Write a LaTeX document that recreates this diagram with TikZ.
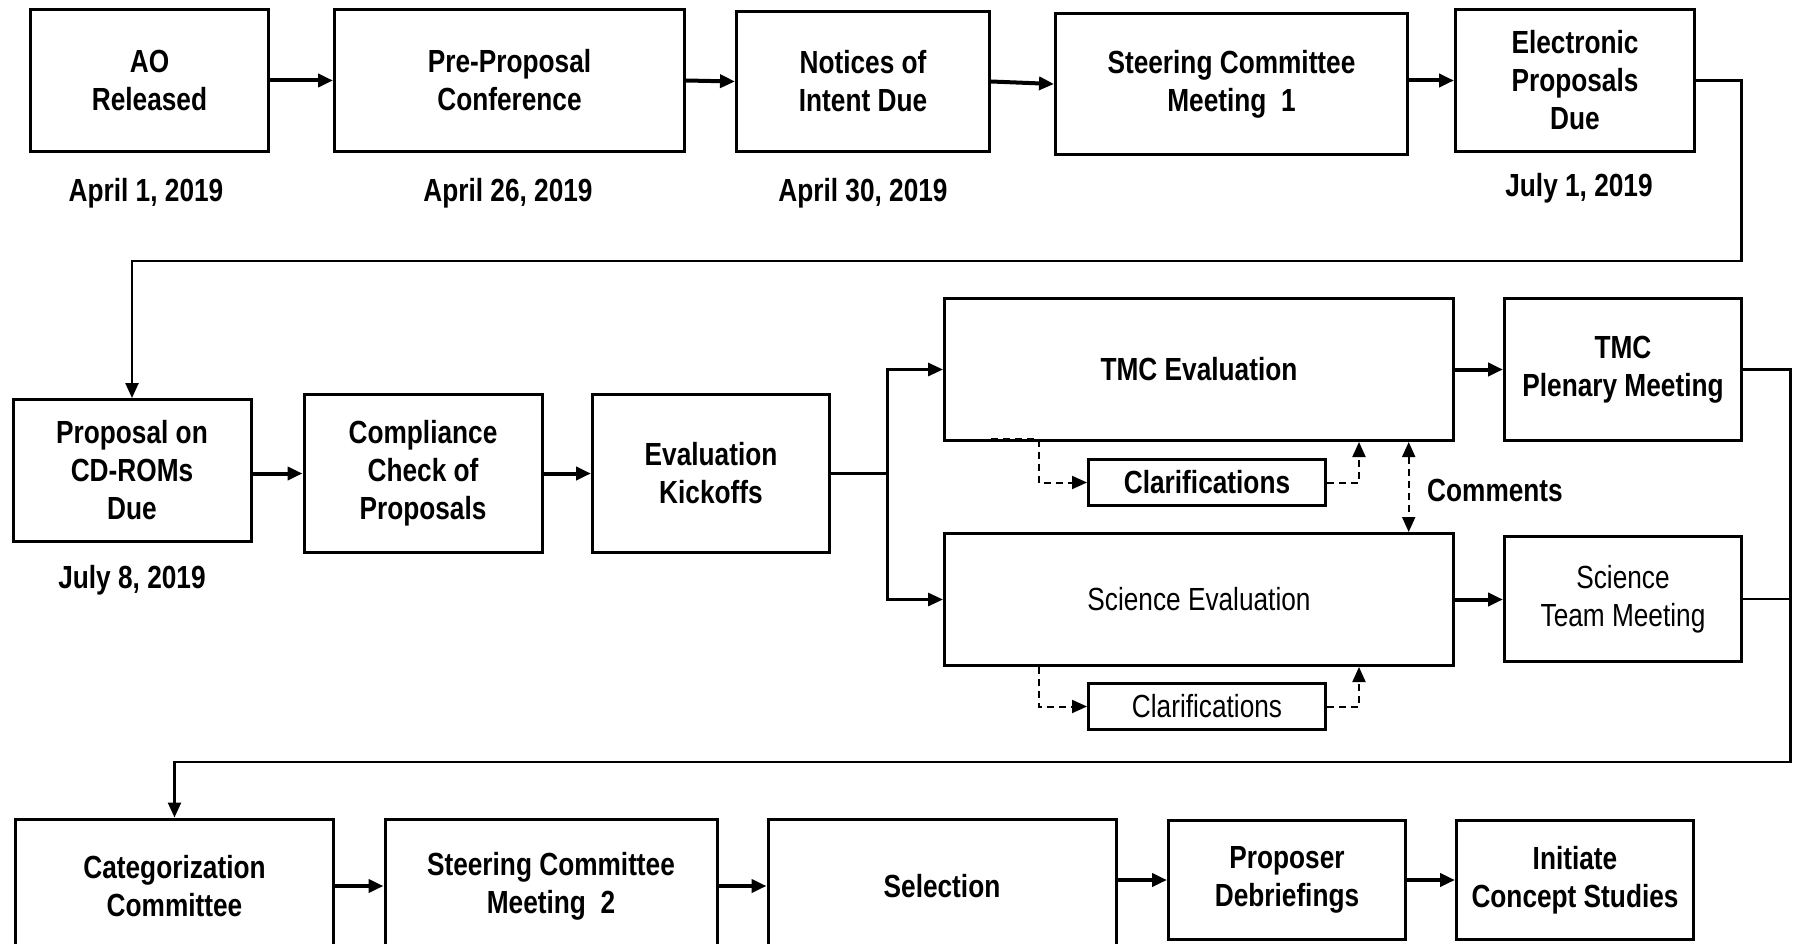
\documentclass[tikz,border=0pt]{standalone}
\usepackage{fontspec}
\setmainfont{Liberation Sans}[FakeStretch=0.82]
\usetikzlibrary{arrows.meta,calc}
\begin{document}
\begin{tikzpicture}[x=1pt,y=-1pt,
  txt/.style={font=\fontsize{32}{38}\selectfont\bfseries, align=center, inner sep=0pt},
  rtxt/.style={font=\fontsize{32}{38}\selectfont, align=center, inner sep=0pt},
  box/.style={txt, draw, line width=3pt},
  rbox/.style={rtxt, draw, line width=3pt},
  tip/.style={-{Triangle[length=15pt,width=13pt]}},
  arr/.style={tip, line width=4pt},
  route/.style={line width=2.5pt},
  dsh/.style={dashed, dash pattern=on 7pt off 5pt, line width=2pt}
]
\useasboundingbox (0,0) rectangle (1794,944);
\clip (0,0) rectangle (1794,944);
\fill[white] (0,0) rectangle (1794,944);

% row 1
\node[box, minimum width=238pt, minimum height=142pt] (ao) at (149.5,80.5) {AO\\Released};
\node[box, minimum width=350pt, minimum height=142pt] (pre) at (509.5,80.5) {Pre-Proposal\\Conference};
\node[box, minimum width=253pt, minimum height=140pt] (noi) at (863,81.5) {Notices of\\Intent Due};
\node[box, minimum width=352pt, minimum height=141pt] (sc1) at (1231.5,84) {Steering Committee\\Meeting\ \ 1};
\node[box, minimum width=239pt, minimum height=142pt] (epd) at (1575,80.5) {Electronic\\Proposals\\Due};

\node[txt] (d1) at (146,193) {April 1, 2019};
\node[txt] (d2) at (508,193) {April 26, 2019};
\node[txt] (d3) at (863,193) {April 30, 2019};
\node[txt] (d4) at (1579,188) {July 1, 2019};

% row 2
\node[box, minimum width=238pt, minimum height=142pt] (cd) at (132,470.5) {Proposal on\\CD-ROMs\\Due};
\node[box, minimum width=238pt, minimum height=158pt] (comp) at (423,473.5) {Compliance\\Check of\\Proposals};
\node[box, minimum width=237pt, minimum height=158pt] (kick) at (711,473.5) {Evaluation\\Kickoffs};
\node[box, minimum width=509pt, minimum height=142pt] (tmc) at (1199,369.5) {TMC Evaluation};
\node[box, minimum width=237pt, minimum height=142pt] (plen) at (1623,369.5) {TMC\\Plenary Meeting};
\node[rbox, minimum width=509pt, minimum height=132pt] (sci) at (1199,599.5) {Science Evaluation};
\node[rbox, minimum width=237pt, minimum height=125pt] (team) at (1623,599) {Science\\Team Meeting};
\node[box, minimum width=237pt, minimum height=46pt] (clar1) at (1207,482.5) {Clarifications};
\node[rbox, minimum width=237pt, minimum height=46pt] (clar2) at (1207,706.5) {Clarifications};
\node[txt] (com) at (1495,490) {Comments};
\node[txt] (d5) at (132,580) {July 8, 2019};

% row 3
\node[box, minimum width=318pt, minimum height=134pt] (cat) at (174.5,886) {Categorization\\Committee};
\node[box, minimum width=332pt, minimum height=134pt] (sc2) at (551,886) {Steering Committee\\Meeting\ \ 2};
\node[box, minimum width=348pt, minimum height=134pt] (sel) at (942,886) {Selection};
\node[box, minimum width=237pt, minimum height=119pt] (deb) at (1287,880) {Proposer\\Debriefings};
\node[box, minimum width=237pt, minimum height=119pt] (ini) at (1575,880) {Initiate\\Concept Studies};

% route points
\coordinate (r1) at (1741.6,261);
\coordinate (r2) at (1790.5,762);
\coordinate (j) at (887,473.5);

% connectors row 1
\draw[arr] (ao.east) -- (ao.east -| pre.west);
\draw[arr] (pre.east) -- (noi.west);
\draw[arr] (noi.east) -- (sc1.west);
\draw[arr] (sc1.east |- epd.west) -- (epd.west);
\draw[route, tip] (epd.east) -| (r1) -| (cd.north);

% row 2
\draw[arr] (cd.east |- comp.west) -- (comp.west);
\draw[arr] (comp) -- (kick);
\draw[line width=3pt] (kick.east) -- (j);
\draw[line width=3pt, tip] (j) |- (tmc.west);
\draw[line width=3pt, tip] (j) |- (sci.west);
\draw[arr] (tmc) -- (plen);
\draw[arr] (sci.east) -- (sci.east -| team.west);
\draw[route, tip] (plen.east) -| (r2) -| (cat.north);
\draw[route] (team.east) -- (team.east -| r2);

% dashed
\draw[dsh, tip] ($(tmc.south west)+(48,-3)$) -- ++(47.5,0) |- (clar1.west);
\draw[dsh, tip] (clar1.east) -| ($(tmc.south west)+(416,0)$);
\draw[dsh, tip] ($(sci.south west)+(95.5,0)$) |- (clar2.west);
\draw[dsh, tip] (clar2.east) -| ($(sci.south west)+(416,0)$);
\draw[dsh, {Triangle[length=15pt,width=13pt]}-{Triangle[length=15pt,width=13pt]}] ($(tmc.south west)+(465.7,0)$) -- ($(sci.north west)+(465.7,0)$);

% row 3
\draw[arr] (cat) -- (sc2);
\draw[arr] (sc2) -- (sel);
\draw[arr] (sel.east |- deb.west) -- (deb.west);
\draw[arr] (deb) -- (ini);
\end{tikzpicture}
\end{document}
